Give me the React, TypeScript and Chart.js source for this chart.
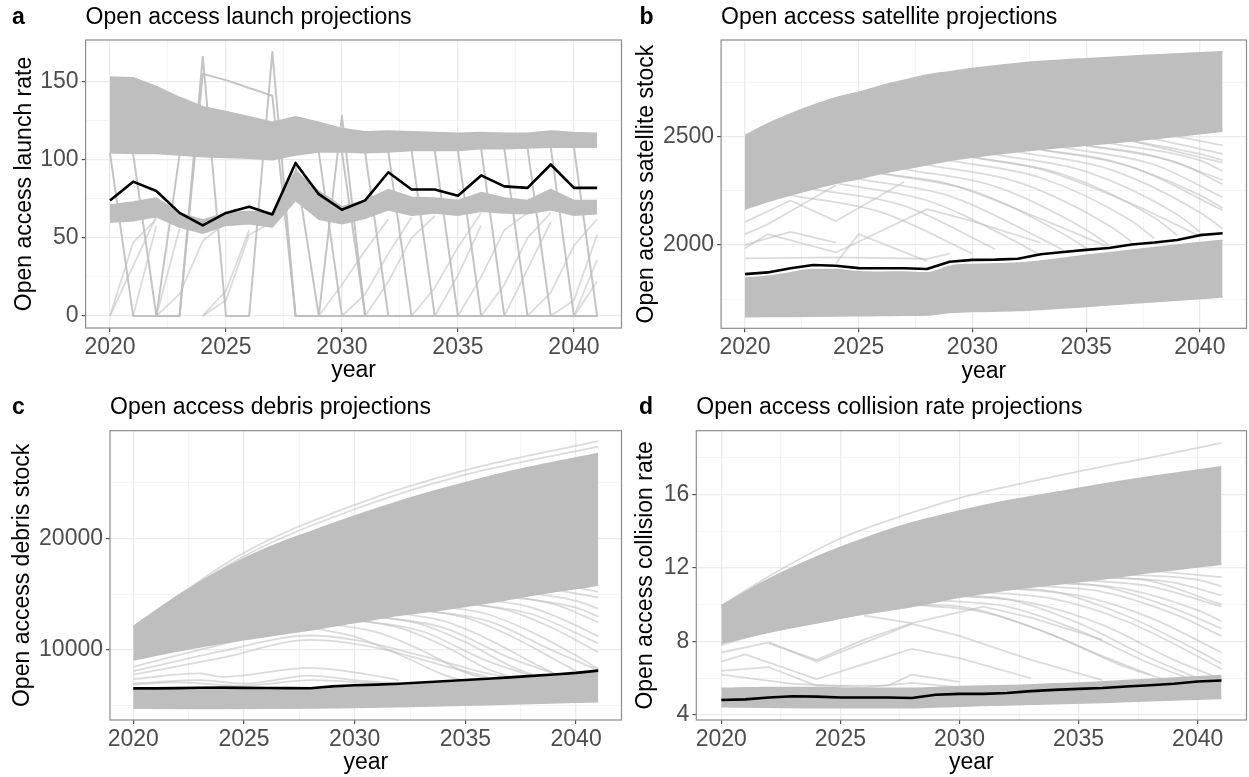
import React, { useEffect, useRef } from 'react';
import { Chart, registerables } from 'chart.js';

Chart.register(...registerables);

const FONT = "'Liberation Sans', Arial, Helvetica, sans-serif";
const BAND = '#BEBEBE';
const MED = 'rgba(190,190,190,0.9)';
const LIGHT = 'rgba(190,190,190,0.55)';

// ---------- shared x axis ----------
const years = [2020, 2021, 2022, 2023, 2024, 2025, 2026, 2027, 2028, 2029, 2030, 2031, 2032, 2033, 2034, 2035, 2036, 2037, 2038, 2039, 2040, 2041];
const xTicks = [2020, 2022.5, 2025, 2027.5, 2030, 2032.5, 2035, 2037.5, 2040];
const xLabels = ['2020', '', '2025', '', '2030', '', '2035', '', '2040'];

// ---------- panel a: launch rate ----------
const aYTicks = [0, 25, 50, 75, 100, 125, 150, 175];
const aYLabels = ['0', '', '50', '', '100', '', '150', ''];
const aBlack = [74, 86, 80, 66, 58, 66, 70, 65, 98, 78, 68, 74, 92, 81, 81, 77, 90, 83, 82, 97, 82, 82];
const aHighTop = [153, 152.5, 147, 140, 134, 131, 127.5, 124, 127.5, 124, 120, 118, 118.5, 118, 117.5, 117, 117.5, 117, 117, 118.5, 117.5, 117];
const aHighBottom = [104.5, 104, 104, 103, 102, 101.5, 101, 100, 103, 105, 105, 104.5, 105, 106, 106, 106, 107, 107, 107.5, 108, 108, 108];
const aLowTop = [71, 73, 75.5, 66, 61.5, 66, 67, 66, 93, 80, 70, 74, 81, 76, 75.5, 74, 79, 75.5, 74, 81, 74, 74];
const aLowBottom = [60, 61, 63.5, 57, 53, 58, 59, 57, 74, 62, 59, 62.5, 68, 64.5, 66, 64.5, 67, 66, 65.5, 68, 64.5, 65.5];
// [year, value, year, value, ...]
const aSpikeLines = [
  [2020, 104.5, 2021, 0, 2023, 0, 2024, 166, 2025, 0, 2026, 0, 2027, 169, 2028, 0, 2041, 0],
  [2021, 104, 2022, 0, 2023, 0, 2024, 155, 2025, 151, 2026, 146, 2027, 141, 2028, 0, 2041, 0],
  [2028, 96, 2029, 0, 2030, 128, 2031, 0, 2041, 0],
  [2022, 0, 2023, 103],
];
const aDropLines = [
  [2029, 105, 2030, 0, 2041, 0],
  [2030, 105, 2031, 0, 2041, 0],
  [2031, 104.5, 2032, 0, 2041, 0],
  [2032, 105, 2033, 0, 2041, 0],
  [2033, 106, 2034, 0, 2041, 0],
  [2034, 106, 2035, 0, 2041, 0],
  [2035, 106, 2036, 0, 2041, 0],
  [2036, 107, 2037, 0, 2041, 0],
  [2037, 107, 2038, 0, 2041, 0],
  [2038, 107.5, 2039, 0, 2041, 0],
  [2039, 108, 2040, 0, 2041, 0],
  [2040, 108, 2041, 0],
];
const aRiseLines = [
  [2020, 0, 2021, 47, 2022, 62],
  [2020, 0, 2022, 64],
  [2021, 0, 2022, 58],
  [2022, 0, 2023, 14, 2024, 48, 2025, 60],
  [2022, 0, 2023, 56],
  [2024, 0, 2025, 10, 2026, 52, 2027, 60],
  [2024, 0, 2025, 16, 2026, 55],
  [2029, 0, 2030, 20, 2031, 42, 2032, 62],
  [2030, 0, 2031, 14, 2032, 40, 2033, 63],
  [2031, 0, 2032, 22, 2033, 50, 2034, 64],
  [2033, 0, 2034, 18, 2035, 44, 2036, 66],
  [2034, 0, 2035, 26, 2036, 58],
  [2035, 0, 2036, 25, 2037, 55, 2038, 66],
  [2036, 0, 2037, 20, 2038, 50, 2039, 66],
  [2037, 0, 2038, 30, 2039, 60],
  [2038, 0, 2039, 15, 2040, 45, 2041, 62],
  [2039, 0, 2040, 10, 2041, 52],
  [2040, 0, 2041, 36],
  [2040, 0, 2041, 22],
];

// ---------- panel b: satellite stock ----------
const bYTicks = [1750, 2000, 2250, 2500, 2750];
const bYLabels = ['', '2000', '', '2500', ''];
const bBlack = [1865, 1873, 1892, 1907, 1904, 1893, 1892, 1892, 1889, 1922, 1931, 1932, 1936, 1957, 1967, 1977, 1986, 2002, 2011, 2023, 2045, 2054];
const bBandYears = [2020, 2021, 2022, 2023, 2024, 2025, 2026, 2027, 2028, 2029, 2030, 2032, 2035, 2038, 2041];
const bHighTop = [2505, 2560, 2605, 2645, 2680, 2705, 2735, 2760, 2785, 2800, 2815, 2838, 2860, 2877, 2892];
const bHighBottom = [2165, 2200, 2230, 2258, 2285, 2305, 2330, 2350, 2370, 2390, 2405, 2430, 2460, 2490, 2525];
const bLowTop = [1847, 1855, 1872, 1886, 1886, 1876, 1874, 1875, 1871, 1902, 1910, 1916, 1952, 1988, 2022];
const bLowBottom = [1668, 1669, 1670, 1671, 1672, 1673, 1674, 1675, 1676, 1688, 1692, 1697, 1716, 1738, 1760];
const bZigLines = [
  [2020, 2105, 2022, 2205, 2024, 2110, 2027, 2290],
  [2020, 2050, 2021, 2095, 2024, 2275],
  [2020, 1985, 2021, 2050, 2024, 1965, 2028, 2165, 2030, 2110, 2033, 2010],
  [2020, 1938, 2024, 1942, 2028, 1936, 2029, 1960],
  [2024, 1915, 2025, 2050, 2028, 1925],
  [2020, 2000, 2022, 2060, 2024, 2010],
];
const bDeclines = [
  [2022, 2230, 2026, 2150, 2030, 1960],
  [2023, 2258, 2027, 2180, 2031, 1980],
  [2024, 2285, 2028, 2205, 2032, 2010, 2033, 1950],
  [2025, 2305, 2029, 2225, 2033, 2030, 2034, 1975],
  [2026, 2330, 2030, 2250, 2034, 2050, 2035, 1985],
  [2026, 2330, 2029, 2280, 2033, 2120, 2036, 1990],
  [2027, 2350, 2031, 2270, 2035, 2070, 2036, 2000],
  [2028, 2370, 2032, 2290, 2036, 2090, 2037, 2015],
  [2029, 2390, 2033, 2310, 2037, 2110, 2038, 2030],
  [2030, 2405, 2034, 2325, 2038, 2125, 2039, 2045],
  [2030, 2405, 2033, 2350, 2037, 2190, 2040, 2040],
  [2031, 2418, 2035, 2338, 2039, 2140, 2040, 2060],
  [2032, 2430, 2036, 2350, 2040, 2150, 2041, 2075],
  [2033, 2440, 2037, 2360, 2041, 2160],
  [2033, 2440, 2036, 2390, 2040, 2230, 2041, 2170],
  [2034, 2450, 2038, 2370, 2041, 2220],
  [2035, 2460, 2039, 2380, 2041, 2280],
  [2035, 2460, 2038, 2410, 2041, 2300],
  [2036, 2470, 2040, 2390, 2041, 2340],
  [2037, 2480, 2041, 2380],
  [2037, 2480, 2040, 2420, 2041, 2390],
  [2038, 2490, 2041, 2420],
  [2039, 2500, 2041, 2460],
];

// ---------- panel c: debris stock ----------
const cYTicks = [5000, 10000, 15000, 20000, 25000];
const cYLabels = ['', '10000', '', '20000', ''];
const cBlack = [6560, 6560, 6590, 6620, 6630, 6610, 6600, 6590, 6580, 6740, 6840, 6900, 6980, 7090, 7200, 7310, 7430, 7550, 7680, 7800, 7950, 8150];
const cBandYears = [2020, 2022, 2024, 2026, 2028, 2030, 2032, 2034, 2036, 2038, 2041];
const cHighTop = [12100, 14850, 17200, 19100, 20600, 22000, 23300, 24450, 25500, 26400, 27600];
const cHighBottom = [9100, 9900, 10600, 11200, 11800, 12450, 13100, 13600, 14200, 14900, 15800];
const cLowTop = [6420, 6450, 6480, 6450, 6430, 6690, 6830, 7050, 7280, 7530, 8000];
const cLowBottom = [4780, 4770, 4770, 4780, 4800, 4860, 4920, 5000, 5100, 5200, 5370];
const cTopLines = [
  [2020, 12000, 2025, 18700, 2030, 23000, 2035, 26100, 2041, 28700],
  [2020, 12100, 2025, 18400, 2030, 22600, 2035, 25700, 2041, 28200],
];
const cHumpLines = [
  [2020, 8100, 2024, 9900, 2028, 11300, 2030, 10900, 2033, 9500, 2036, 7900, 2037, 7500],
  [2020, 7800, 2024, 9300, 2028, 10900, 2031, 10200, 2034, 8600, 2036, 7600],
  [2020, 7400, 2023, 7900, 2024, 7600, 2028, 8400, 2030, 8000, 2032, 7300],
  [2020, 7000, 2023, 7300, 2025, 7000, 2028, 7700, 2030, 7300, 2032, 7000],
  [2020, 8500, 2024, 10500, 2028, 12300],
  [2020, 6900, 2022, 7100, 2025, 6800, 2028, 7300, 2031, 7000],
];
const cFanLines = [
  [2028, 12000, 2030, 11200, 2032, 9600, 2034, 7800, 2035, 7200],
  [2029, 12300, 2031, 11600, 2033, 10000, 2035, 8000, 2036, 7400],
  [2030, 12700, 2032, 12000, 2034, 10400, 2036, 8300, 2037, 7600],
  [2030, 12700, 2033, 11700, 2036, 9000, 2038, 7700],
  [2031, 13000, 2033, 12300, 2035, 10700, 2037, 8600, 2038, 7800],
  [2031, 13000, 2034, 12000, 2037, 9300, 2039, 7900],
  [2032, 13300, 2034, 12600, 2036, 11000, 2038, 8900, 2039, 7900],
  [2033, 13600, 2035, 12900, 2037, 11300, 2039, 9200, 2040, 8100],
  [2033, 13600, 2036, 12600, 2039, 9900, 2041, 8200],
  [2034, 13900, 2036, 13200, 2038, 11600, 2040, 9500, 2041, 8300],
  [2035, 14200, 2037, 13500, 2039, 11900, 2041, 9800],
  [2035, 14200, 2038, 13200, 2041, 10600],
  [2036, 14500, 2038, 13800, 2040, 12200, 2041, 11200],
  [2037, 14800, 2039, 14100, 2041, 12500],
  [2037, 14800, 2040, 13800, 2041, 13000],
  [2038, 15100, 2040, 14400, 2041, 13700],
  [2039, 15400, 2041, 14700],
  [2040, 15600, 2041, 15200],
];

// ---------- panel d: collision rate ----------
const dYTicks = [4, 6, 8, 10, 12, 14, 16, 18];
const dYLabels = ['4', '', '8', '', '12', '', '16', ''];
const dBlack = [4.82, 4.85, 4.95, 5.02, 5.0, 4.95, 4.95, 4.95, 4.93, 5.1, 5.15, 5.15, 5.2, 5.3, 5.37, 5.42, 5.47, 5.55, 5.62, 5.7, 5.82, 5.88];
const dBandYears = [2020, 2022, 2024, 2026, 2028, 2030, 2032, 2034, 2036, 2038, 2041];
const dHighTop = [9.95, 11.4, 12.6, 13.6, 14.45, 15.1, 15.65, 16.1, 16.55, 16.95, 17.5];
const dHighBottom = [7.9, 8.5, 9.0, 9.5, 9.9, 10.4, 10.8, 11.1, 11.4, 11.75, 12.2];
const dLowTop = [5.45, 5.5, 5.5, 5.45, 5.45, 5.55, 5.6, 5.7, 5.8, 5.95, 6.15];
const dLowBottom = [4.45, 4.42, 4.4, 4.4, 4.4, 4.48, 4.55, 4.62, 4.68, 4.78, 4.9];
const dTopLines = [
  [2020, 9.95, 2022, 11.55, 2025, 13.6, 2028, 15.0, 2030, 15.8, 2033, 16.7, 2035, 17.25, 2038, 18.0, 2041, 18.8],
];
const dZigLines = [
  [2020, 7.4, 2022, 7.95, 2024, 6.9, 2028, 8.95, 2030, 8.3, 2033, 7.0, 2036, 5.9],
  [2020, 6.9, 2021, 7.3, 2024, 5.95, 2028, 7.6, 2030, 7.1, 2033, 6.0],
  [2020, 6.4, 2022, 6.6, 2024, 5.6, 2027, 5.6, 2028, 6.2, 2030, 5.8],
  [2020, 6.2, 2023, 5.7, 2026, 5.5, 2028, 5.75, 2030, 5.5],
  [2020, 7.8, 2022, 8.6, 2024, 9.1, 2028, 9.9],
  [2026, 9.4, 2028, 9.0, 2031, 9.9, 2033, 9.3, 2036, 8.1],
  [2022, 7.9, 2024, 7.0, 2026, 8.1, 2028, 9.0],
];
const dFanLines = [
  [2028, 10.0, 2030, 9.9, 2033, 8.8, 2036, 7.2, 2038, 6.2],
  [2028, 10.0, 2031, 9.6, 2034, 8.3, 2037, 6.6, 2039, 5.8],
  [2029, 10.25, 2032, 9.9, 2035, 8.6, 2038, 6.8, 2040, 5.8],
  [2030, 10.5, 2032, 10.3, 2035, 9.0, 2038, 7.1, 2040, 6.0],
  [2030, 10.5, 2033, 10.1, 2036, 8.9, 2039, 7.0, 2041, 5.95],
  [2031, 10.7, 2034, 10.3, 2037, 9.1, 2040, 7.2, 2041, 6.5],
  [2032, 10.9, 2034, 10.7, 2037, 9.4, 2040, 7.5, 2041, 6.8],
  [2032, 10.9, 2035, 10.5, 2038, 9.3, 2041, 7.4],
  [2033, 11.05, 2036, 10.7, 2039, 9.5, 2041, 8.3],
  [2034, 11.2, 2036, 11.0, 2039, 9.8, 2041, 8.7],
  [2034, 11.2, 2037, 10.85, 2040, 9.7, 2041, 9.1],
  [2035, 11.35, 2038, 11.0, 2041, 9.9],
  [2036, 11.5, 2038, 11.3, 2041, 10.0],
  [2036, 11.5, 2039, 11.2, 2041, 10.5],
  [2037, 11.65, 2040, 11.35, 2041, 11.0],
  [2038, 11.85, 2041, 11.5],
];

// ---------- helpers ----------
type Pt = { x: number; y: number };
const zip = (xs: number[], ys: number[]): Pt[] => xs.map((x, i) => ({ x, y: ys[i] }));
const pairs = (a: number[]): Pt[] => {
  const out: Pt[] = [];
  for (let i = 0; i + 1 < a.length; i += 2) out.push({ x: a[i], y: a[i + 1] });
  return out;
};

function lineDs(data: Pt[], color: string, width: number, smooth: boolean, order: number): any {
  return {
    data,
    borderColor: color,
    backgroundColor: color,
    borderWidth: width,
    fill: false,
    pointRadius: 0,
    pointHoverRadius: 0,
    tension: 0,
    cubicInterpolationMode: smooth ? 'monotone' : 'default',
    borderJoinStyle: 'round',
    order,
  };
}

function bandDs(xs: number[], lower: number[], upper: number[], smooth: boolean): any[] {
  const lo = lineDs(zip(xs, lower), BAND, 1.5, smooth, 3);
  const hi = { ...lineDs(zip(xs, upper), BAND, 1.5, smooth, 3), fill: '-1', backgroundColor: BAND };
  return [lo, hi];
}

function buildA(): any[] {
  const ds: any[] = [lineDs(zip(years, aBlack), '#000000', 2.6, false, 0)];
  ds.push(...bandDs(years, aHighBottom, aHighTop, false));
  ds.push(...bandDs(years, aLowBottom, aLowTop, false));
  aSpikeLines.forEach((l) => ds.push(lineDs(pairs(l), MED, 2, false, 2)));
  aDropLines.forEach((l) => ds.push(lineDs(pairs(l), MED, 2, false, 2)));
  aRiseLines.forEach((l) => ds.push(lineDs(pairs(l), LIGHT, 1.8, false, 2)));
  return ds;
}
function buildB(): any[] {
  const ds: any[] = [lineDs(zip(years, bBlack), '#000000', 2.6, false, 0)];
  ds.push(...bandDs(bBandYears, bHighBottom, bHighTop, true));
  ds.push(...bandDs(bBandYears, bLowBottom, bLowTop, true));
  bZigLines.forEach((l) => ds.push(lineDs(pairs(l), LIGHT, 1.8, false, 2)));
  bDeclines.forEach((l) => ds.push(lineDs(pairs(l), LIGHT, 1.8, true, 2)));
  return ds;
}
function buildC(): any[] {
  const ds: any[] = [lineDs(zip(years, cBlack), '#000000', 2.6, false, 0)];
  ds.push(...bandDs(cBandYears, cHighBottom, cHighTop, true));
  ds.push(...bandDs(cBandYears, cLowBottom, cLowTop, true));
  cTopLines.forEach((l) => ds.push(lineDs(pairs(l), LIGHT, 1.8, true, 2)));
  cHumpLines.forEach((l) => ds.push(lineDs(pairs(l), LIGHT, 1.8, true, 2)));
  cFanLines.forEach((l) => ds.push(lineDs(pairs(l), LIGHT, 1.8, true, 2)));
  return ds;
}
function buildD(): any[] {
  const ds: any[] = [lineDs(zip(years, dBlack), '#000000', 2.6, false, 0)];
  ds.push(...bandDs(dBandYears, dHighBottom, dHighTop, true));
  ds.push(...bandDs(dBandYears, dLowBottom, dLowTop, true));
  dTopLines.forEach((l) => ds.push(lineDs(pairs(l), LIGHT, 1.8, true, 2)));
  dZigLines.forEach((l) => ds.push(lineDs(pairs(l), LIGHT, 1.8, false, 2)));
  dFanLines.forEach((l) => ds.push(lineDs(pairs(l), LIGHT, 1.8, true, 2)));
  return ds;
}

interface PanelSpec {
  letter: string;
  title: string;
  yTitle: string;
  left: number;
  top: number;
  w: number;
  h: number;
  plotL: number; // local coords
  plotR: number;
  plotT: number;
  plotB: number;
  yMin: number;
  yMax: number;
  yTicks: number[];
  yLabels: string[];
  titlePadTop: number;
  yTitlePad: number;
  letterLeft: number;
  letterTop: number;
  build: () => any[];
}

const panels: PanelSpec[] = [
  {
    letter: 'a', title: 'Open access launch projections', yTitle: 'Open access launch rate',
    left: 0, top: 0, w: 624, h: 388, plotL: 85.6, plotR: 621.5, plotT: 40, plotB: 328,
    yMin: -7.7, yMax: 176.7, yTicks: aYTicks, yLabels: aYLabels, titlePadTop: 3.5, yTitlePad: 10.5,
    letterLeft: 12, letterTop: 5, build: buildA,
  },
  {
    letter: 'b', title: 'Open access satellite projections', yTitle: 'Open access satellite stock',
    left: 624, top: 0, w: 625, h: 388, plotL: 97.1, plotR: 622.5, plotT: 40, plotB: 328.3,
    yMin: 1615, yMax: 2946, yTicks: bYTicks, yLabels: bYLabels, titlePadTop: 3.5, yTitlePad: 8.5,
    letterLeft: 639.5, letterTop: 5, build: buildB,
  },
  {
    letter: 'c', title: 'Open access debris projections', yTitle: 'Open access debris stock',
    left: 0, top: 388, w: 624, h: 389, plotL: 110, plotR: 621.5, plotT: 42.7, plotB: 332,
    yMin: 3733, yMax: 29633, yTicks: cYTicks, yLabels: cYLabels, titlePadTop: 5.7, yTitlePad: 8.5,
    letterLeft: 12, letterTop: 395, build: buildC,
  },
  {
    letter: 'd', title: 'Open access collision rate projections', yTitle: 'Open access collision rate',
    left: 624, top: 388, w: 625, h: 389, plotL: 72.3, plotR: 622.5, plotT: 42.7, plotB: 332,
    yMin: 3.73, yMax: 19.46, yTicks: dYTicks, yLabels: dYLabels, titlePadTop: 5.7, yTitlePad: 8.2,
    letterLeft: 639, letterTop: 395, build: buildD,
  },
];

const boxPlugin = {
  id: 'panelBox',
  afterDraw(chart: any) {
    const { ctx, chartArea: a } = chart;
    ctx.save();
    ctx.strokeStyle = '#8C8C8C';
    ctx.lineWidth = 1.2;
    ctx.strokeRect(a.left, a.top, a.right - a.left, a.bottom - a.top);
    ctx.restore();
  },
};

const labelFor = (ticks: number[], labels: string[]) => (v: number) => {
  const i = ticks.indexOf(v);
  return i >= 0 ? labels[i] : '';
};

function gridOpts(lab: (v: number) => string) {
  const major = (c: any) => !!(c && c.tick && lab(c.tick.value) !== '');
  return {
    drawOnChartArea: true,
    drawTicks: true,
    tickLength: 4,
    tickWidth: 1,
    color: (c: any) => (major(c) ? '#EBEBEB' : '#F3F3F3'),
    lineWidth: (c: any) => (major(c) ? 1.3 : 0.8),
    tickColor: (c: any) => (major(c) ? '#333333' : 'rgba(0,0,0,0)'),
  };
}

const XAXIS_H = 52;
const FS = 23;

function Panel({ spec }: { spec: PanelSpec }) {
  const ref = useRef<HTMLCanvasElement>(null);
  useEffect(() => {
    const xLab = labelFor(xTicks, xLabels);
    const yLab = labelFor(spec.yTicks, spec.yLabels);
    const titleLH = FS * 1.2;
    const chart = new Chart(ref.current as HTMLCanvasElement, {
      type: 'line',
      data: { datasets: spec.build() },
      options: {
        responsive: false,
        maintainAspectRatio: false,
        animation: false,
        devicePixelRatio: 1,
        events: [],
        layout: {
          padding: {
            left: 0,
            top: 0,
            right: spec.w - spec.plotR,
            bottom: spec.h - spec.plotB - XAXIS_H,
          },
        },
        plugins: {
          legend: { display: false },
          tooltip: { enabled: false },
          title: {
            display: true,
            text: spec.title,
            align: 'start',
            fullSize: false,
            color: '#000000',
            font: { family: FONT, size: FS, weight: 'normal' },
            padding: { top: spec.titlePadTop, bottom: spec.plotT - titleLH - spec.titlePadTop },
          },
        },
        scales: {
          x: {
            type: 'linear',
            min: 2018.95,
            max: 2042.05,
            afterBuildTicks: (s: any) => {
              s.ticks = xTicks.map((v) => ({ value: v }));
            },
            afterFit: (s: any) => {
              s.height = XAXIS_H;
            },
            ticks: {
              autoSkip: false,
              maxRotation: 0,
              minRotation: 0,
              padding: 2,
              color: '#4D4D4D',
              font: { family: FONT, size: FS },
              callback: (v: any) => xLab(Number(v)),
            },
            grid: gridOpts(xLab) as any,
            border: { display: false },
            title: {
              display: true,
              text: 'year',
              color: '#000000',
              font: { family: FONT, size: FS },
              padding: { top: 0, bottom: -4.8 },
            },
          },
          y: {
            type: 'linear',
            min: spec.yMin,
            max: spec.yMax,
            afterBuildTicks: (s: any) => {
              s.ticks = spec.yTicks.map((v) => ({ value: v }));
            },
            afterFit: (s: any) => {
              s.width = spec.plotL;
            },
            ticks: {
              autoSkip: false,
              padding: 3,
              color: '#4D4D4D',
              font: { family: FONT, size: FS },
              callback: (v: any) => yLab(Number(v)),
            },
            grid: gridOpts(yLab) as any,
            border: { display: false },
            title: {
              display: true,
              text: spec.yTitle,
              color: '#000000',
              font: { family: FONT, size: FS },
              padding: { top: spec.yTitlePad, bottom: 0 },
            },
          },
        },
      } as any,
      plugins: [boxPlugin],
    });
    return () => chart.destroy();
  }, []);
  return (
    <canvas
      ref={ref}
      width={spec.w}
      height={spec.h}
      style={{ position: 'absolute', left: spec.left, top: spec.top, width: spec.w, height: spec.h }}
    />
  );
}

export default function App() {
  return (
    <div style={{ position: 'absolute', left: 0, top: 0, width: 1249, height: 777, background: '#ffffff', overflow: 'hidden' }}>
      {panels.map((p) => (
        <Panel key={p.letter} spec={p} />
      ))}
      {panels.map((p) => (
        <div
          key={'l' + p.letter}
          style={{
            position: 'absolute',
            left: p.letterLeft,
            top: p.letterTop,
            fontFamily: FONT,
            fontWeight: 'bold',
            fontSize: FS,
            lineHeight: FS + 'px',
            color: '#000000',
          }}
        >
          {p.letter}
        </div>
      ))}
    </div>
  );
}
